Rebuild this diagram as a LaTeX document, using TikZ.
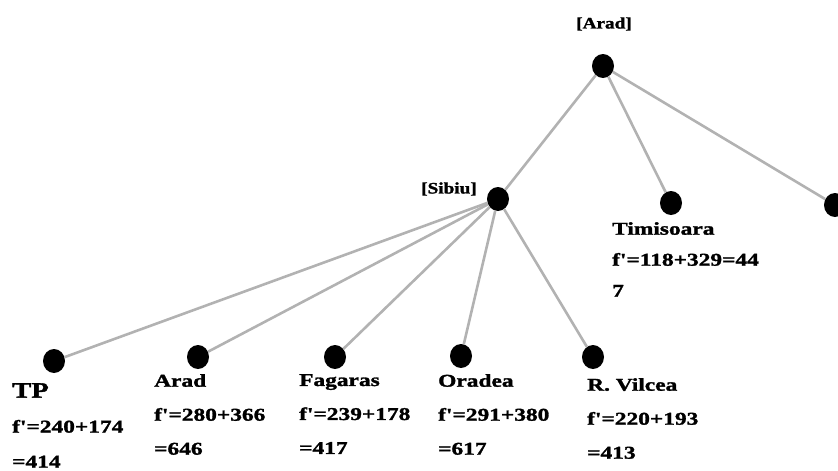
\documentclass[tikz,border=0pt]{standalone}
\usepackage{fontspec}
\setmainfont{Liberation Serif}
\newfontfamily\labfont[FakeStretch=1.3,FakeBold=1.5]{Liberation Serif}
\newfontfamily\tagfont[FakeStretch=1.2,FakeBold=1.5]{Liberation Serif}
\usetikzlibrary{shapes.geometric}
\begin{document}
\begin{tikzpicture}[x=1pt,y=-1pt,
  dot/.style={ellipse,fill=black,draw=none,minimum width=22pt,minimum height=24pt,inner sep=0pt},
  link/.style={draw=gray!60,line width=2.6pt},
  lab/.style={anchor=north west,align=left,inner sep=0pt,
    font=\labfont\bfseries\fontsize{18}{34}\selectfont},
  tag/.style={anchor=center,inner sep=0pt,
    font=\tagfont\bfseries\fontsize{16}{16}\selectfont}]
\useasboundingbox (0,0) rectangle (838,471);
% nodes
\node[dot] (root) at (603,66) {};
\node[dot] (sib)  at (498,199) {};
\node[dot] (tim)  at (671,203) {};
\node[dot] (zer)  at (835,205) {};
\node[dot] (tp)   at (54,361) {};
\node[dot] (ar)   at (198,357) {};
\node[dot] (fag)  at (335,357) {};
\node[dot] (ora)  at (461,356) {};
\node[dot] (rv)   at (593,357) {};
% edges
\draw[link] (root) -- (sib);
\draw[link] (root) -- (tim);
\draw[link] (root) -- (zer);
\draw[link] (sib) -- (tp);
\draw[link] (sib) -- (ar);
\draw[link] (sib) -- (fag);
\draw[link] (sib) -- (ora);
\draw[link] (sib) -- (rv);
% labels
\node[tag] (lroot) at (604,24) {[Arad]};
\node[tag] (lsib)  at (449,189) {[Sibiu]};
\node[lab,font=\labfont\bfseries\fontsize{18}{31}\selectfont] (ltim) at (612,222) {Timisoara\\f'=118+329=44\\7};
\node[lab,font=\labfont\bfseries\fontsize{18}{35}\selectfont] (ltp) at (12,383) {{\fontsize{22}{22}\selectfont TP}\\f'=240+174\\=414};
\node[lab] (lar)  at (154,374) {Arad\\f'=280+366\\=646};
\node[lab] (lfag) at (299,374) {Fagaras\\f'=239+178\\=417};
\node[lab] (lora) at (438,374) {Oradea\\f'=291+380\\=617};
\node[lab] (lrv)  at (587,378) {R. Vilcea\\f'=220+193\\=413};
\end{tikzpicture}
\end{document}
